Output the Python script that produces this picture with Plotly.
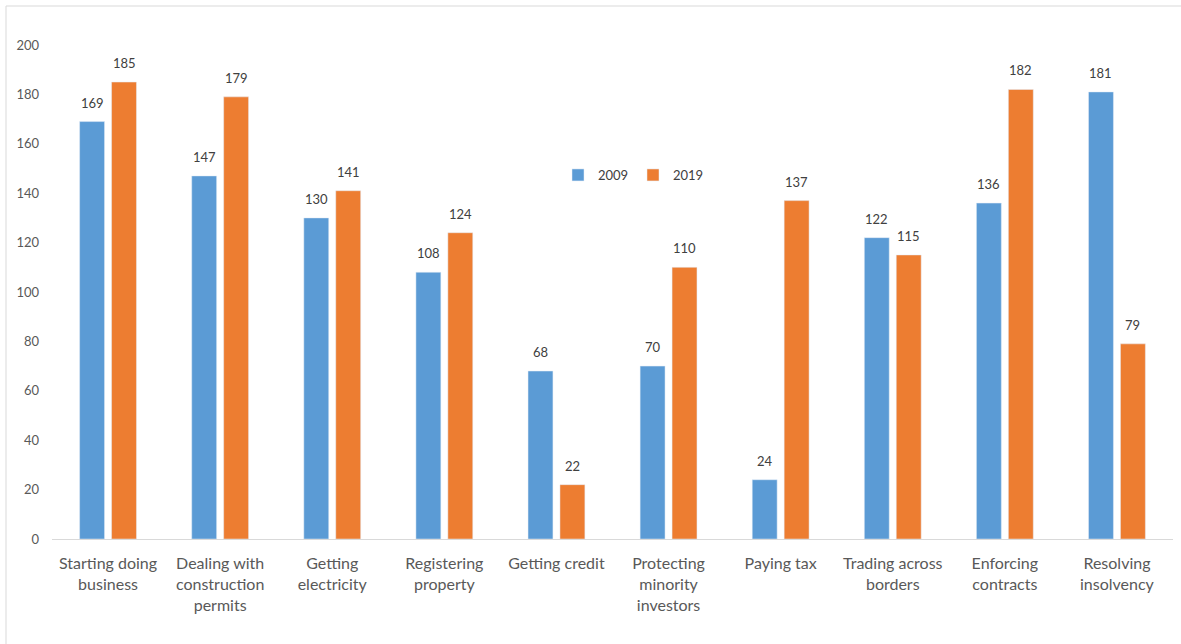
import plotly.graph_objects as go

categories = ["Starting doing<br>business", "Dealing with<br>construction<br>permits", "Getting<br>electricity",
              "Registering<br>property", "Getting credit", "Protecting<br>minority<br>investors", "Paying tax",
              "Trading across<br>borders", "Enforcing<br>contracts", "Resolving<br>insolvency"]
v2009 = [169, 147, 130, 108, 68, 70, 24, 122, 136, 181]
v2019 = [185, 179, 141, 124, 22, 110, 137, 115, 182, 79]
yticks = [0, 20, 40, 60, 80, 100, 120, 140, 160, 180, 200]

W, H = 1181, 644
L, R, T, B = 52, 8, 45, 105
pw, ph = W - L - R, H - T - B

font = "Lato, 'Open Sans', sans-serif"
txtc = "#404040"

fig = go.Figure()
fig.add_bar(x=categories, y=v2009, name="2009", marker_color="#5B9BD5")
fig.add_bar(x=categories, y=v2019, name="2019", marker_color="#ED7D31")

for vals, shift in ((v2009, -16), (v2019, 16)):
    for c, v in zip(categories, vals):
        fig.add_annotation(x=c, y=v, xref="x", yref="y", text=str(v), showarrow=False,
                           xshift=shift, yshift=19, yanchor="middle",
                           font=dict(size=13, color=txtc, family=font))

def px2x(p):
    return (p - L) / pw

def px2y(p):
    return (H - B - p) / ph

fig.add_shape(type="rect", xref="paper", yref="paper",
              x0=px2x(6), x1=px2x(1190), y0=px2y(650), y1=px2y(6),
              line=dict(color="#D9D9D9", width=1), fillcolor="rgba(0,0,0,0)", layer="below")

fig.update_layout(
    width=W, height=H,
    margin=dict(l=L, r=R, t=T, b=B, pad=0),
    paper_bgcolor="white", plot_bgcolor="white",
    barmode="group", bargap=0.43, bargroupgap=0.22,
    font=dict(family=font, color=txtc),
    showlegend=True,
    legend=dict(orientation="h", x=px2x(558), y=px2y(175), xanchor="left", yanchor="middle",
                font=dict(size=13, color=txtc, family=font), bgcolor="rgba(0,0,0,0)",
                itemwidth=30, tracegroupgap=0, entrywidth=30),
    xaxis=dict(showgrid=False, showline=True, linecolor="#D9D9D9", linewidth=1,
               ticks="", tickfont=dict(size=16, color="#595959", family=font), tickangle=0,
               ticklabelstandoff=10),
    yaxis=dict(range=[0, 200], tickvals=yticks, showgrid=False, showline=False, zeroline=False,
               ticks="", tickfont=dict(size=13, color="#595959", family=font), ticklabelstandoff=12),
)

fig.write_html("out.html")
